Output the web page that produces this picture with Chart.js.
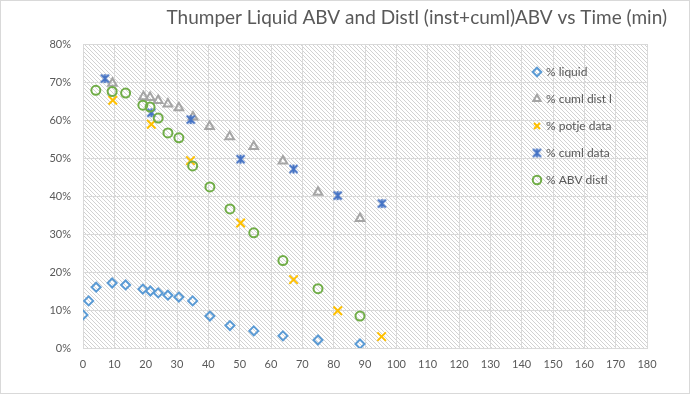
<!DOCTYPE html>
<html><head><meta charset="utf-8">
<script src="https://cdn.jsdelivr.net/npm/chart.js@4.4.0/dist/chart.umd.min.js"></script>
<style>html,body{margin:0;padding:0;background:#fff}canvas{display:block}</style>
</head><body>
<canvas id="c" width="690" height="394"></canvas>
<script>
const titleText = 'Thumper Liquid ABV and Distl (inst+cuml)ABV vs Time (min)';
const seriesNames = ['% liquid', '% cuml dist l', '% potje data', '% cuml data', '% ABV distl'];
const xTicks = [0, 180, 10];       // min, max, step (minutes)
const yTicks = [0, 80, 10];        // min, max, step (%)

const timeLiquid = [0, 1.8, 4.2, 9.3, 13.6, 19.1, 21.5, 24, 27.1, 30.6, 35, 40.5, 46.9, 54.5, 63.8, 75, 88.4];
const pctLiquid  = [8.7, 12.4, 16.0, 17.1, 16.6, 15.5, 15.0, 14.5, 13.9, 13.4, 12.4, 8.4, 5.9, 4.5, 3.2, 2.1, 1.05];

const timeCumlDistl = [9.4, 19.3, 21.4, 24, 27.1, 30.6, 35.1, 40.4, 46.8, 54.5, 63.8, 75, 88.4];
const pctCumlDistl  = [69.7, 66.1, 65.9, 65.1, 64.2, 63.2, 60.8, 58.3, 55.6, 53.0, 49.2, 41.0, 34.1];

const timePotje = [9.5, 21.8, 34.3, 50.3, 67.2, 81.3, 95.3];
const pctPotje  = [65.2, 58.9, 49.3, 32.9, 18.0, 9.8, 3.0];

const timeCumlData = [7, 21.8, 34.4, 50.3, 67.2, 81.3, 95.4];
const pctCumlData  = [70.9, 61.9, 60.1, 49.7, 47.1, 40.1, 38.0];

const timeAbvDistl = [4.1, 9.3, 13.6, 19.1, 21.4, 24, 27.1, 30.6, 35, 40.5, 46.9, 54.5, 63.8, 75, 88.4];
const pctAbvDistl  = [67.8, 67.5, 67.1, 63.9, 63.4, 60.5, 56.6, 55.3, 47.9, 42.4, 36.6, 30.3, 23.0, 15.6, 8.4];

const FONT = 'Lato, "Open Sans", sans-serif';
const TXT = '#595959';
const GRID = '#d9d9d9';

function pts(xs, ys) { return xs.map((x, i) => ({x: x, y: ys[i]})); }

// Excel-like "star" marker (X plus vertical bar)
const starMarker = (() => {
  const c = document.createElement('canvas'); c.width = 11; c.height = 11;
  const g = c.getContext('2d');
  g.strokeStyle = '#4472C4'; g.lineWidth = 2; g.lineCap = 'butt';
  g.beginPath();
  g.moveTo(1.5, 1.5); g.lineTo(9.5, 9.5);
  g.moveTo(9.5, 1.5); g.lineTo(1.5, 9.5);
  g.moveTo(5.5, 1); g.lineTo(5.5, 10);
  g.stroke();
  return c;
})();

const hatchTile = (() => {
  const c = document.createElement('canvas'); c.width = 4; c.height = 4;
  const g = c.getContext('2d');
  g.fillStyle = '#ffffff'; g.fillRect(0, 0, 4, 4);
  g.fillStyle = '#d2d2d2';
  for (let i = 0; i < 4; i++) g.fillRect(i, i, 1, 1);
  return c;
})();

const tweak = {
  id: 'tweak',
  beforeDraw(chart) {
    const t = chart.titleBlock;
    if (t) { t.left = 0; t.right = 667; }
    const l = chart.legend;
    if (l) {
      const dx = 519 - l.left, dy = 51 - l.top;
      l.left += dx; l.right += dx; l.top += dy; l.bottom += dy;
    }
    const {ctx, chartArea: a} = chart;
    ctx.save();
    ctx.fillStyle = ctx.createPattern(hatchTile, 'repeat');
    ctx.fillRect(a.left, a.top, a.right - a.left, a.bottom - a.top);
    ctx.restore();
  },
  afterDraw(chart) {
    const ctx = chart.ctx;
    ctx.save();
    ctx.strokeStyle = GRID; ctx.lineWidth = 1;
    ctx.strokeRect(0.5, 0.5, chart.width - 1, chart.height - 1);
    ctx.restore();
  }
};

function ds(label, xs, ys, color, style, radius, order) {
  return {
    label: label,
    data: pts(xs, ys),
    order: order,
    showLine: false,
    pointStyle: style,
    pointRadius: radius,
    pointHoverRadius: radius,
    pointBorderWidth: 2,
    pointBorderColor: color,
    pointBackgroundColor: 'rgba(0,0,0,0)',
    borderColor: color,
    backgroundColor: 'rgba(0,0,0,0)'
  };
}

new Chart(document.getElementById('c'), {
  type: 'scatter',
  data: {
    datasets: [
      ds(seriesNames[0], timeLiquid, pctLiquid, '#5B9BD5', 'rectRot', 4.5, 5),
      ds(seriesNames[1], timeCumlDistl, pctCumlDistl, '#A5A5A5', 'triangle', 5, 4),
      ds(seriesNames[2], timePotje, pctPotje, '#FFC000', 'crossRot', 6, 3),
      ds(seriesNames[3], timeCumlData, pctCumlData, '#4472C4', starMarker, 5, 2),
      ds(seriesNames[4], timeAbvDistl, pctAbvDistl, '#70AD47', 'circle', 4.5, 1)
    ]
  },
  options: {
    responsive: false,
    animation: false,
    events: [],
    layout: {padding: {left: 0, right: 43, top: 0, bottom: 0}},
    plugins: {
      tooltip: {enabled: false},
      title: {
        display: true, text: titleText, align: 'end', color: TXT,
        font: {family: FONT, size: 19, weight: 'normal', lineHeight: 1.2},
        padding: {top: 6, bottom: 15.2}
      },
      legend: {
        position: 'chartArea', align: 'start', reverse: true,
        labels: {
          usePointStyle: true, boxWidth: 6, boxHeight: 6, padding: 15,
          color: TXT, font: {family: FONT, size: 12}
        }
      }
    },
    scales: {
      x: {
        type: 'linear', min: xTicks[0], max: xTicks[1],
        ticks: {stepSize: xTicks[2], color: TXT, font: {family: FONT, size: 11}, padding: 10, maxRotation: 0},
        grid: {color: GRID, drawTicks: false},
        border: {color: GRID},
        afterFit(s) { s.height = 46; }
      },
      y: {
        min: yTicks[0], max: yTicks[1],
        ticks: {stepSize: yTicks[2], color: TXT, font: {family: FONT, size: 11}, padding: 12,
          callback: v => v + '%'},
        grid: {color: GRID, drawTicks: false},
        border: {color: GRID},
        afterFit(s) { s.width = 83; }
      }
    }
  },
  plugins: [tweak]
});
</script>
</body></html>
